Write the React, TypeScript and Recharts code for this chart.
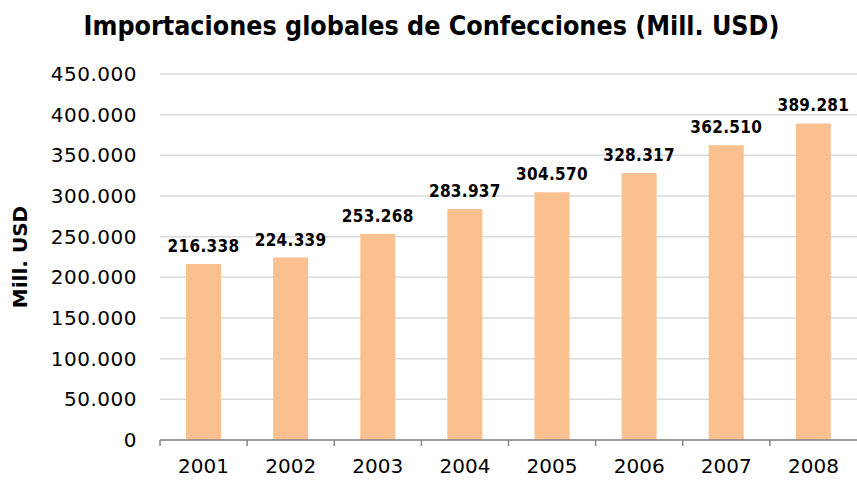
import { Bar, BarChart, CartesianGrid, LabelList, XAxis, YAxis } from "recharts";

const years = ["2001", "2002", "2003", "2004", "2005", "2006", "2007", "2008"];
const imports = [216338, 224339, 253268, 283937, 304570, 328317, 362510, 389281];
const yTicks = [0, 50000, 100000, 150000, 200000, 250000, 300000, 350000, 400000, 450000];

const data = years.map((year, i) => ({ year, value: imports[i] }));

const CHART_W = 857;
const CHART_H = 489;
const Y_W = 160;
const BAND = (CHART_W - Y_W) / years.length;

const FONT = "'DejaVu Sans', Verdana, sans-serif";
const FONT_C = "'DejaVu Sans Condensed', 'DejaVu Sans', sans-serif";
const BAR_COLOR = "#FAC090";
const GRID = "#D9D9D9";
const AXIS = "#868686";

// 216338 -> "216.338"
const fmt = (v: number) => String(Math.round(v)).replace(/\B(?=(\d{3})+(?!\d))/g, ".");

const YearTick = (props: any) => {
  const { x, y, payload } = props;
  return (
    <g>
      <line x1={x - BAND / 2} x2={x - BAND / 2} y1={y} y2={y + 6} stroke={AXIS} strokeWidth={1.5} />
      <text x={x} y={y + 33} textAnchor="middle" fill="#000" fontSize={20} fontFamily={FONT}>
        {payload.value}
      </text>
    </g>
  );
};

export default function App() {
  return (
    <div style={{ position: "absolute", left: 0, top: 0, width: CHART_W, height: CHART_H, background: "#fff" }}>
      <BarChart
        width={CHART_W}
        height={CHART_H}
        data={data}
        margin={{ top: 74, right: 0, bottom: 0, left: 0 }}
        barCategoryGap={0}
      >
        <CartesianGrid stroke={GRID} strokeWidth={1.5} vertical={false} />
        <XAxis
          dataKey="year"
          axisLine={{ stroke: AXIS, strokeWidth: 1.5 }}
          tickLine={false}
          tickSize={0}
          tickMargin={0}
          height={49}
          interval={0}
          tick={<YearTick />}
        />
        <YAxis
          width={Y_W}
          domain={[0, 450000]}
          ticks={yTicks}
          interval={0}
          axisLine={false}
          tickLine={false}
          tickSize={0}
          tickMargin={23}
          tickFormatter={fmt}
          tick={{ fill: "#000", fontSize: 20, fontFamily: FONT, letterSpacing: 0.5 }}
          label={{
            value: "Mill. USD",
            angle: -90,
            position: "insideLeft",
            offset: 20,
            style: { fill: "#000", fontSize: 20, fontWeight: 700, fontFamily: FONT, textAnchor: "middle" },
          }}
        />
        <Bar dataKey="value" fill={BAR_COLOR} barSize={35} isAnimationActive={false}>
          <LabelList
            dataKey="value"
            position="top"
            offset={12}
            formatter={(v: any) => fmt(Number(v))}
            style={{ fill: "#000", fontSize: 17, fontWeight: 700, fontFamily: FONT_C, letterSpacing: 0.3 }}
          />
        </Bar>
      </BarChart>
      <div
        style={{
          position: "absolute",
          left: 0,
          top: 10,
          width: CHART_W,
          textAlign: "center",
          fontFamily: FONT_C,
          fontWeight: 700,
          fontSize: 26.6,
          lineHeight: "32px",
          color: "#000",
          paddingLeft: 6,
          boxSizing: "border-box",
        }}
      >
        Importaciones globales de Confecciones (Mill. USD)
      </div>
    </div>
  );
}
